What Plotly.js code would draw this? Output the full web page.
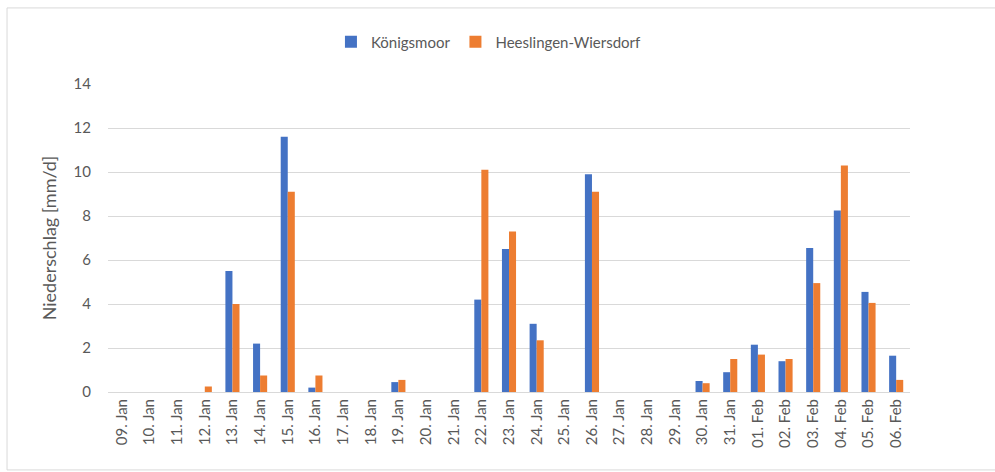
<!DOCTYPE html>
<html>
<head>
<meta charset="utf-8">
<script src="https://cdn.plot.ly/plotly-3.0.1.min.js"></script>
<style>html,body{margin:0;padding:0;background:#fff;}#chart{width:995px;height:472px;}</style>
</head>
<body>
<div id="chart"></div>
<script>
const categories = ["09. Jan","10. Jan","11. Jan","12. Jan","13. Jan","14. Jan","15. Jan","16. Jan","17. Jan","18. Jan","19. Jan","20. Jan","21. Jan","22. Jan","23. Jan","24. Jan","25. Jan","26. Jan","27. Jan","28. Jan","29. Jan","30. Jan","31. Jan","01. Feb","02. Feb","03. Feb","04. Feb","05. Feb","06. Feb"];
const koenigsmoor = [0,0,0,0,5.5,2.2,11.6,0.2,0,0,0.45,0,0,4.2,6.5,3.1,0,9.9,0,0,0,0.5,0.9,2.15,1.4,6.55,8.25,4.55,1.65];
const heeslingen  = [0,0,0,0.25,4.0,0.75,9.1,0.75,0,0,0.55,0,0,10.1,7.3,2.35,0,9.1,0,0,0,0.4,1.5,1.7,1.5,4.95,10.3,4.05,0.55];
const yTicks = [0,2,4,6,8,10,12,14];

const fam = "Lato, 'Open Sans', sans-serif";
const font = {family: fam, size: 15, color: "#595959"};
const traces = [
  {type: "bar", name: "Königsmoor", x: categories, y: koenigsmoor, marker: {color: "#4472C4"}},
  {type: "bar", name: "Heeslingen-Wiersdorf", x: categories, y: heeslingen, marker: {color: "#ED7D31"}}
];
const layout = {
  width: 995, height: 472,
  margin: {l: 108, r: 85, t: 84, b: 80},
  paper_bgcolor: "#fff", plot_bgcolor: "#fff",
  font: font,
  barmode: "group", bargap: 0.49, bargroupgap: 0,
  showlegend: true,
  legend: {orientation: "h", x: 0.475, xanchor: "center", y: 1.136, yanchor: "middle", font: font, itemwidth: 30, traceorder: "normal"},
  xaxis: {type: "category", tickangle: -90, tickfont: font, showgrid: false, showline: true, linecolor: "#d9d9d9", ticks: "", zeroline: false},
  yaxis: {range: [0, 14], tickvals: yTicks, ticktext: yTicks.map(String), tickfont: font, gridcolor: "#d9d9d9", zeroline: true, zerolinecolor: "#d9d9d9", ticklen: 0, ticks: "", ticklabelstandoff: 16,
    title: {text: "Niederschlag [mm/d]", font: {family: fam, size: 18, color: "#595959"}, standoff: 12}},
  shapes: [
    {type: "line", xref: "paper", yref: "paper", x0: -0.1259, x1: 1.2, y0: 1.247, y1: 1.247, line: {color: "#d9d9d9", width: 1}},
    {type: "line", xref: "paper", yref: "paper", x0: -0.1259, x1: -0.1259, y0: 1.247, y1: -0.253, line: {color: "#d9d9d9", width: 1}},
    {type: "line", xref: "paper", yref: "paper", x0: -0.1259, x1: 1.2, y0: -0.253, y1: -0.253, line: {color: "#d9d9d9", width: 1}}
  ]
};
Plotly.newPlot("chart", traces, layout, {displayModeBar: false, staticPlot: true});
</script>
</body>
</html>
